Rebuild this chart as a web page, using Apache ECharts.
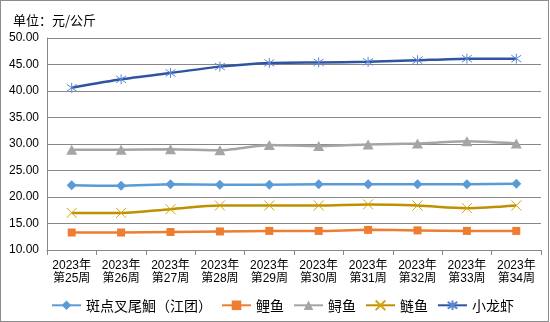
<!DOCTYPE html>
<html>
<head>
<meta charset="utf-8">
<script src="https://cdn.jsdelivr.net/npm/echarts@6/dist/echarts.min.js"></script>
<style>
html,body{margin:0;padding:0;background:#fff;}
#frame{position:absolute;left:0;top:0;width:549px;height:322px;box-sizing:border-box;border:1px solid #8c8c8c;}
#chart{position:absolute;left:0;top:0;width:550px;height:322px;}
</style>
</head>
<body>
<div id="frame"></div>
<div id="chart"></div>
<script>
const categories = ['2023年\n第25周','2023年\n第26周','2023年\n第27周','2023年\n第28周','2023年\n第29周','2023年\n第30周','2023年\n第31周','2023年\n第32周','2023年\n第33周','2023年\n第34周'];
const seriesNames = ['斑点叉尾鮰（江团）','鲤鱼','鲟鱼','鲢鱼','小龙虾'];
const catfish = [22.2, 22.1, 22.4, 22.3, 22.3, 22.4, 22.4, 22.4, 22.4, 22.5];
const carp = [13.3, 13.3, 13.4, 13.5, 13.6, 13.6, 13.8, 13.7, 13.6, 13.6];
const sturgeon = [28.9, 28.9, 29.0, 28.8, 29.8, 29.6, 29.9, 30.1, 30.5, 30.1];
const silverCarp = [17.0, 17.0, 17.7, 18.4, 18.4, 18.4, 18.6, 18.4, 17.9, 18.4];
const crayfish = [40.6, 42.2, 43.4, 44.6, 45.3, 45.4, 45.5, 45.8, 46.1, 46.1];
const yTicks = {min: 10, max: 50, interval: 5};

const chart = echarts.init(document.getElementById('chart'), null, {renderer: 'canvas'});
const xPath = 'path://M0,0L10,10M10,0L0,10';
const starPath = 'path://M5,0L5,10M0.8,1.5L9.2,8.5M9.2,1.5L0.8,8.5';
const fontFam = '"Liberation Sans", Arial, "Noto Sans CJK SC", sans-serif';

chart.setOption({
  animation: false,
  title: {
    text: '单位：元/公斤',
    left: 8, top: 9,
    textStyle: {fontSize: 13, fontWeight: 'normal', color: '#000', fontFamily: '"Noto Sans CJK SC", sans-serif'}
  },
  legend: {
    left: 46, top: 293,
    itemWidth: 29, itemHeight: 12, itemGap: 9,
    textStyle: {fontSize: 14, color: '#000', fontFamily: '"Noto Sans CJK SC", sans-serif'},
    data: seriesNames
  },
  grid: {left: 47, right: 9, top: 38, bottom: 72, containLabel: false},
  xAxis: {
    type: 'category',
    data: categories,
    boundaryGap: true,
    axisLine: {lineStyle: {color: '#878787', width: 1}},
    axisTick: {show: true, length: 5, lineStyle: {color: '#878787'}},
    axisLabel: {fontSize: 12, color: '#000', lineHeight: 13, margin: 9, interval: 0, fontFamily: fontFam}
  },
  yAxis: {
    type: 'value',
    min: yTicks.min, max: yTicks.max, interval: yTicks.interval,
    axisLine: {show: true, lineStyle: {color: '#878787'}},
    axisTick: {show: false},
    splitLine: {lineStyle: {color: '#878787', width: 1}},
    axisLabel: {fontSize: 12, color: '#000', margin: 8, fontFamily: fontFam, formatter: v => v.toFixed(2)}
  },
  series: [
    {
      name: seriesNames[0], type: 'line', data: catfish, smooth: 0.2,
      symbol: 'diamond', symbolSize: 10,
      lineStyle: {color: '#5B9BD5', width: 2.5},
      itemStyle: {color: '#5B9BD5'}
    },
    {
      name: seriesNames[1], type: 'line', data: carp, smooth: 0.2,
      symbol: 'rect', symbolSize: 8,
      lineStyle: {color: '#ED7D31', width: 2.5},
      itemStyle: {color: '#ED7D31'}
    },
    {
      name: seriesNames[2], type: 'line', data: sturgeon, smooth: 0.2,
      symbol: 'triangle', symbolSize: [11, 10],
      lineStyle: {color: '#A5A5A5', width: 2.5},
      itemStyle: {color: '#A5A5A5'}
    },
    {
      name: seriesNames[3], type: 'line', data: silverCarp, smooth: 0.3,
      symbol: xPath, symbolSize: 10,
      lineStyle: {color: '#BF9000', width: 2.5},
      itemStyle: {color: 'none', borderColor: '#D4A20C', borderWidth: 1}
    },
    {
      name: seriesNames[4], type: 'line', data: crayfish, smooth: 0.2,
      symbol: starPath, symbolSize: 10,
      lineStyle: {color: '#2F54A0', width: 2.5},
      itemStyle: {color: 'none', borderColor: '#5B86D6', borderWidth: 1}
    }
  ]
});
</script>
</body>
</html>
